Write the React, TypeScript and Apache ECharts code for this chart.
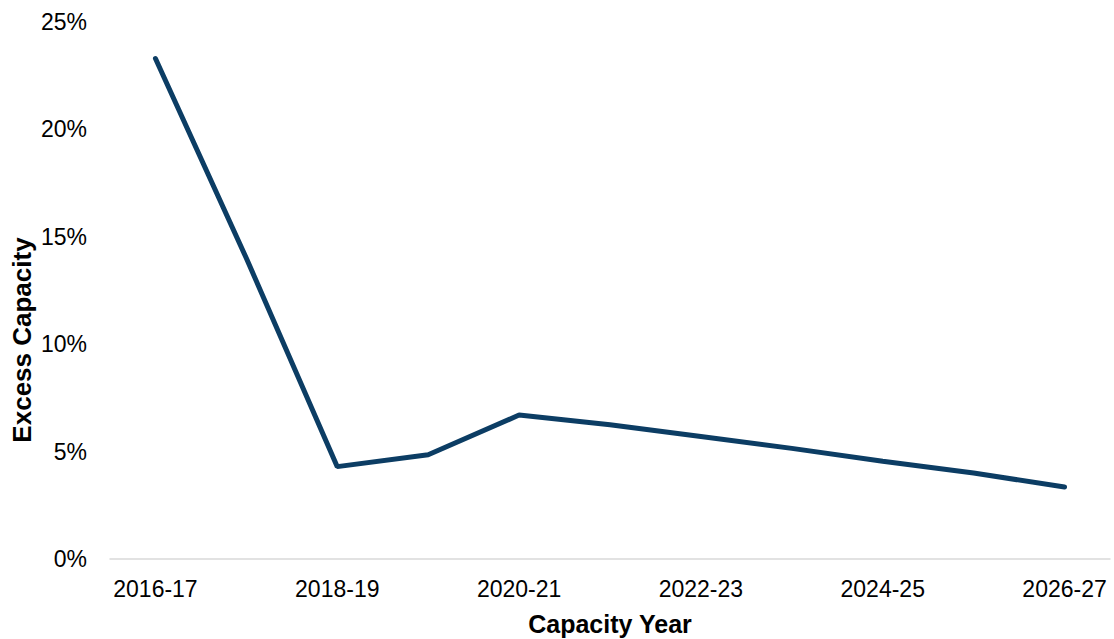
import React, { useEffect, useRef } from "react";
import * as echarts from "echarts";

const categories = [
  "2016-17", "2017-18", "2018-19", "2019-20", "2020-21", "2021-22",
  "2022-23", "2023-24", "2024-25", "2025-26", "2026-27",
];
const excessCapacity = [23.3, 14.0, 4.3, 4.85, 6.7, 6.25, 5.7, 5.15, 4.55, 4.0, 3.35];
const yTicks = { min: 0, max: 25, interval: 5 };
const xTitle = "Capacity Year";
const yTitle = "Excess Capacity";

const FONT = "'Liberation Sans', Arial, sans-serif";

export default function App() {
  const ref = useRef<HTMLDivElement>(null);
  useEffect(() => {
    if (!ref.current) return;
    const chart = echarts.init(ref.current, null, { renderer: "svg" });
    chart.setOption({
      animation: false,
      backgroundColor: "#ffffff",
      grid: { left: 110, right: 4, top: 22, bottom: 80, containLabel: false },
      xAxis: {
        type: "category",
        data: categories,
        boundaryGap: true,
        axisLine: { show: true, lineStyle: { color: "#d9d9d9", width: 1.5 } },
        axisTick: { show: false },
        axisLabel: {
          interval: 1,
          margin: 18,
          color: "#000000",
          fontFamily: FONT,
          fontSize: 23,
        },
        splitLine: { show: false },
      },
      yAxis: {
        type: "value",
        min: yTicks.min,
        max: yTicks.max,
        interval: yTicks.interval,
        axisLine: { show: false },
        axisTick: { show: false },
        splitLine: { show: false },
        axisLabel: {
          margin: 23,
          color: "#000000",
          fontFamily: FONT,
          fontSize: 23,
          formatter: "{value}%",
        },
      },
      graphic: [
        {
          type: "text",
          x: 610,
          y: 624,
          style: {
            text: xTitle,
            font: `bold 25px ${FONT}`,
            fill: "#000000",
            align: "center",
            verticalAlign: "middle",
          },
        },
        {
          type: "text",
          x: 22,
          y: 340,
          rotation: Math.PI / 2,
          style: {
            text: yTitle,
            font: `bold 26px ${FONT}`,
            fill: "#000000",
            align: "center",
            verticalAlign: "middle",
          },
        },
      ],
      series: [
        {
          type: "line",
          data: excessCapacity,
          symbol: "none",
          lineStyle: { color: "#0c3d64", width: 5, cap: "round" },
          itemStyle: { color: "#0c3d64" },
        },
      ],
    });
    return () => chart.dispose();
  }, []);
  return (
    <div
      ref={ref}
      style={{ position: "fixed", left: 0, top: 0, width: 1114, height: 639 }}
    />
  );
}
